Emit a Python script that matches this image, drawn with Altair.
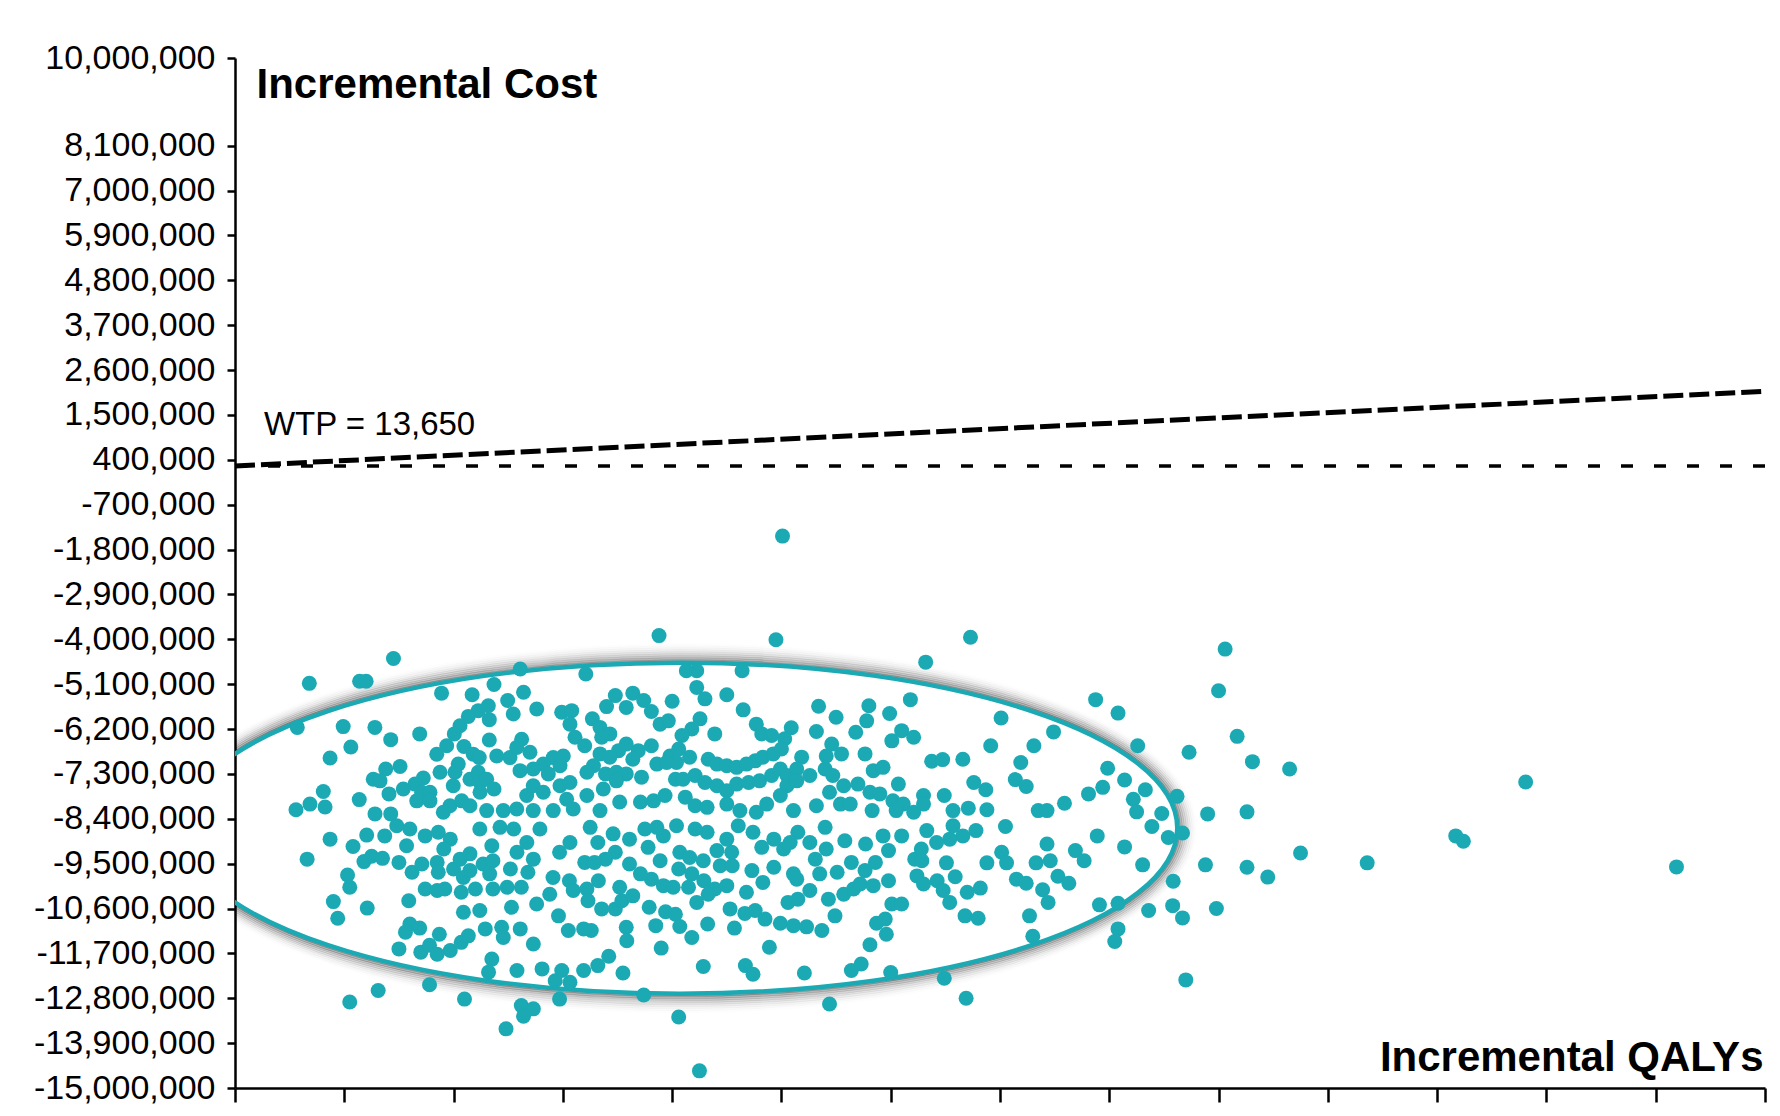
import altair as alt
import pandas as pd

FONT = "'Liberation Sans', Arial, sans-serif"
TEAL = "#1BA9B4"

# ---------------- axes ----------------
y_tick_values = [-15000000, -13900000, -12800000, -11700000, -10600000, -9500000,
                 -8400000, -7300000, -6200000, -5100000, -4000000, -2900000,
                 -1800000, -700000, 400000, 1500000, 2600000, 3700000, 4800000,
                 5900000, 7000000, 8100000, 10250000]
y_tick_labels = ["-15,000,000", "-13,900,000", "-12,800,000", "-11,700,000", "-10,600,000",
                 "-9,500,000", "-8,400,000", "-7,300,000", "-6,200,000", "-5,100,000",
                 "-4,000,000", "-2,900,000", "-1,800,000", "-700,000", "400,000",
                 "1,500,000", "2,600,000", "3,700,000", "4,800,000", "5,900,000",
                 "7,000,000", "8,100,000", "10,000,000"]
x_tick_values = [0, 10, 20, 30, 40, 50, 60, 70, 80, 90, 100, 110, 120, 130, 140]
x_domain = [0, 140]
y_domain = [-15000000, 10250000]

# ---------------- reference lines ----------------
ref_qaly = [0, 140]
ref_cost = [250000, 250000]
wtp_qaly = [0, 140]
wtp_cost = [250000, 2080000]
wtp_label = ["WTP = 13,650"]
wtp_label_qaly = [2.65]
wtp_label_cost = [1010000]

# ---------------- confidence ellipse (centre) ----------------
ellipse_qaly = [40.7]
ellipse_cost = [-8630000]

# ---------------- simulation points (QALYs, cost in millions) ----------------
upper_left = [
    (14.5, -4.47), (6.8, -5.08), (11.4, -5.03), (12.0, -5.03), (26.1, -4.73), (5.7, -6.16),
    (9.9, -6.14), (12.8, -6.16), (14.25, -6.46), (16.9, -6.32), (10.6, -6.64), (8.7, -6.91),
    (18.9, -5.32), (21.7, -5.36), (23.7, -5.11), (26.4, -5.30), (24.95, -5.50), (25.46, -5.83),
    (23.18, -5.63), (22.26, -5.75), (21.35, -5.89), (23.27, -5.97), (20.59, -6.12), (20.07, -6.32),
    (27.61, -5.71), (29.89, -5.79), (30.81, -5.75), (30.65, -6.08), (31.11, -6.40), (23.27, -6.47),
    (19.37, -6.61), (18.46, -6.82), (20.95, -6.63), (21.8, -6.82), (22.35, -6.90), (23.95, -6.86),
    (25.16, -6.90), (26.23, -6.45), (25.78, -6.65), (26.99, -6.77), (29.12, -6.90), (30.04, -6.86),
    (29.74, -7.10), (28.21, -7.06), (27.29, -7.18), (26.08, -7.22), (28.67, -7.30), (15.1, -7.12),
    (13.79, -7.18), (12.65, -7.43), (13.27, -7.47), (18.76, -7.26), (20.43, -7.06), (20.13, -7.26),
    (21.5, -7.43), (22.26, -7.26), (22.42, -7.51), (23.03, -7.43), (23.7, -7.67), (22.42, -7.75),
    (19.97, -7.59), (17.23, -7.40), (16.47, -7.55), (15.4, -7.67), (14.09, -7.79), (17.08, -7.75),
    (17.84, -7.75), (16.63, -7.96), (17.84, -7.96), (8.08, -7.73), (6.86, -8.04), (8.24, -8.11),
    (5.58, -8.18), (11.37, -7.93), (12.81, -8.28), (14.25, -8.28), (19.67, -8.08), (20.74, -7.96),
    (21.5, -8.08), (24.55, -8.20), (25.78, -8.16), (26.69, -7.83), (27.29, -7.59), (28.21, -7.75),
    (29.74, -7.59), (30.65, -7.51), (30.35, -7.92), (29.12, -8.20), (30.95, -8.16), (27.29, -8.20),
    (23.03, -8.20), (19.06, -8.24),
]
upper_centre = [
    (38.8, -3.91), (49.5, -4.01), (32.1, -4.85), (41.3, -4.77), (42.25, -4.77), (46.4, -4.77),
    (42.25, -5.18), (43.0, -5.46), (45.0, -5.36), (46.5, -5.73), (40.0, -5.52), (34.8, -5.38),
    (34.0, -5.65), (36.4, -5.32), (35.8, -5.67), (37.4, -5.50), (38.1, -5.77), (38.9, -6.08),
    (39.65, -6.00), (42.55, -5.95), (41.8, -6.20), (40.9, -6.36), (43.9, -6.32), (32.7, -5.95),
    (33.4, -6.16), (34.3, -6.32), (33.55, -6.40), (32.0, -6.61), (47.7, -6.08), (48.2, -6.32),
    (49.1, -6.36), (50.9, -6.17), (50.3, -6.44), (53.4, -5.64), (55.0, -5.91), (53.2, -6.26),
    (54.6, -6.57), (56.8, -6.28), (58.0, -5.63), (57.8, -6.00), (59.9, -5.82), (61.8, -5.48),
    (60.1, -6.49), (61.0, -6.24), (62.1, -6.40), (35.8, -6.57), (36.9, -6.73), (38.1, -6.61),
    (35.1, -6.73), (33.4, -6.81), (34.3, -6.89), (36.4, -6.94), (32.8, -7.10), (32.2, -7.26),
    (33.9, -7.30), (34.9, -7.26), (35.8, -7.30), (37.2, -7.38), (38.6, -7.06), (39.8, -6.86),
    (40.6, -6.69), (41.6, -6.89), (40.4, -7.02), (39.5, -7.02), (43.3, -6.94), (44.1, -7.06),
    (45.0, -7.10), (45.9, -7.14), (46.8, -7.06), (47.6, -6.98), (48.3, -6.89), (49.25, -6.81),
    (50.0, -6.69), (51.85, -6.89), (54.1, -6.86), (55.5, -6.81), (57.65, -6.81), (49.9, -7.18),
    (50.5, -7.34), (51.4, -7.18), (52.6, -7.34), (54.0, -7.18), (54.7, -7.34), (58.4, -7.22),
    (59.3, -7.14), (60.7, -7.55), (40.3, -7.43), (41.0, -7.43), (42.1, -7.34), (43.0, -7.51),
    (44.1, -7.59), (45.0, -7.71), (45.9, -7.55), (47.0, -7.51), (48.0, -7.47), (49.1, -7.34),
    (50.5, -7.59), (51.4, -7.47), (55.7, -7.59), (57.0, -7.55), (54.4, -7.75), (58.1, -7.75),
    (59.0, -7.79), (32.2, -7.83), (33.7, -7.67), (34.9, -7.47), (33.4, -8.20), (35.2, -7.99),
    (37.1, -7.99), (38.3, -7.96), (39.35, -7.83), (41.2, -7.87), (42.1, -8.08), (43.2, -8.12),
    (45.0, -8.04), (46.2, -8.20), (47.7, -8.24), (48.65, -8.04), (49.9, -7.83), (51.1, -8.20),
    (53.2, -8.08), (55.4, -8.04), (56.3, -8.04), (58.3, -8.20), (60.2, -7.96), (61.15, -8.04),
    (62.1, -8.24), (60.5, -8.20),
]
upper_right = [
    (67.3, -3.95), (63.2, -4.56), (90.6, -4.24), (90.0, -5.26), (91.7, -6.38), (93.1, -7.00),
    (78.75, -5.48), (80.8, -5.81), (82.6, -6.61), (87.3, -6.77), (70.1, -5.93), (74.9, -6.27),
    (69.15, -6.61), (73.1, -6.61), (71.9, -7.02), (66.6, -6.94), (63.75, -6.99), (64.75, -6.95),
    (67.6, -7.51), (68.7, -7.69), (71.4, -7.44), (72.4, -7.61), (64.9, -7.83), (63.0, -7.83),
    (63.0, -8.04), (65.7, -8.20), (67.1, -8.14), (68.8, -8.18), (73.5, -8.20), (74.3, -8.20),
    (75.9, -8.02), (78.1, -7.79), (79.4, -7.63), (79.85, -7.16), (81.4, -7.45), (83.3, -7.69),
    (82.2, -7.92), (82.5, -8.23), (84.8, -8.27), (86.2, -7.85), (89.0, -8.28), (92.6, -8.23),
]
lower_left = [
    (6.6, -9.39), (8.7, -8.90), (10.8, -9.08), (12.05, -8.80), (11.8, -9.45), (12.5, -9.32),
    (13.5, -9.37), (10.3, -9.78), (10.5, -10.08), (9.0, -10.43), (9.4, -10.84), (12.1, -10.59),
    (13.7, -8.82), (15.0, -9.47), (15.9, -10.41), (16.0, -10.98), (15.6, -11.18), (16.9, -11.08),
    (15.0, -11.59), (17.0, -11.67), (17.8, -11.50), (18.7, -11.23), (18.5, -11.72), (19.7, -11.63),
    (20.7, -11.43), (21.35, -11.27), (16.2, -9.71), (17.1, -9.51), (15.7, -9.06), (17.4, -8.82),
    (18.6, -8.73), (14.8, -8.57), (16.0, -8.65), (18.5, -9.47), (18.6, -9.71), (17.4, -10.12),
    (18.5, -10.16), (19.2, -10.12), (20.0, -9.63), (20.6, -9.39), (21.5, -9.26), (20.9, -9.84),
    (20.7, -10.20), (22.0, -10.12), (21.5, -9.67), (22.7, -9.51), (23.5, -9.06), (22.4, -8.65),
    (24.25, -8.61), (19.7, -8.90), (19.1, -9.14), (23.6, -9.43), (23.3, -9.75), (23.6, -10.12),
    (24.9, -10.08), (25.2, -9.63), (25.8, -9.22), (25.5, -8.65), (20.9, -10.69), (22.4, -10.65),
    (22.9, -11.10), (24.4, -11.06), (24.55, -11.31), (26.1, -11.10), (25.3, -10.57), (26.2, -10.08),
    (26.8, -9.71), (27.3, -9.39), (26.7, -8.98), (27.9, -8.65), (27.6, -10.49), (28.8, -10.25),
    (29.6, -10.78), (29.1, -9.84), (29.7, -9.22), (30.65, -8.98), (30.6, -9.92), (30.95, -10.16),
    (30.5, -11.14), (27.3, -11.47), (23.5, -11.84), (23.2, -12.16), (25.8, -12.12), (28.1, -12.08),
    (29.3, -12.37), (29.9, -12.12), (30.65, -12.41), (29.7, -12.82), (26.2, -12.98), (27.3, -13.06),
    (17.8, -12.47), (13.1, -12.61), (10.5, -12.89), (21.0, -12.82),
]
lower_centre = [
    (37.4, -12.72), (54.4, -12.94), (31.9, -12.12), (33.2, -12.00), (34.2, -11.77), (35.5, -12.18),
    (35.8, -11.06), (35.85, -11.39), (32.6, -11.14), (39.0, -11.57), (38.5, -11.02), (37.9, -10.57),
    (39.4, -10.68), (40.3, -10.74), (40.7, -11.04), (41.8, -11.31), (43.25, -10.98), (42.85, -12.02),
    (46.7, -12.00), (47.4, -12.21), (45.7, -11.08), (45.3, -10.61), (46.65, -10.72), (47.6, -10.65),
    (48.5, -10.86), (49.9, -10.96), (51.1, -11.02), (52.3, -11.05), (53.7, -11.14), (48.9, -11.55),
    (52.1, -12.18), (54.9, -10.78), (56.4, -12.12), (57.3, -11.96), (58.1, -11.49), (58.7, -10.96),
    (59.5, -10.86), (59.6, -11.23), (60.1, -10.49), (61.0, -10.49), (60.0, -12.17), (46.8, -10.20),
    (48.3, -9.96), (47.3, -9.67), (49.3, -9.59), (50.6, -10.45), (51.5, -10.37), (52.6, -10.16),
    (51.4, -9.88), (51.1, -9.75), (54.3, -10.37), (55.7, -10.25), (56.6, -10.12), (57.2, -10.00),
    (58.4, -10.04), (59.8, -9.92), (57.65, -9.67), (58.6, -9.47), (56.4, -9.47), (55.1, -9.71),
    (53.5, -9.75), (53.1, -9.39), (54.1, -9.14), (55.8, -8.94), (57.7, -9.02), (59.8, -9.18),
    (59.3, -8.82), (61.0, -8.82), (62.2, -9.39), (62.4, -9.80), (54.0, -8.61), (52.6, -8.98),
    (51.5, -8.73), (50.8, -8.98), (50.2, -9.14), (49.3, -8.90), (48.2, -9.10), (47.4, -8.73),
    (46.05, -8.57), (45.0, -8.90), (45.45, -9.22), (44.1, -9.18), (44.4, -9.55), (45.5, -9.55),
    (43.2, -8.73), (42.1, -8.65), (40.4, -8.57), (39.2, -8.82), (38.6, -8.61), (37.8, -9.10),
    (38.9, -9.43), (40.7, -9.22), (41.6, -9.35), (42.85, -9.43), (40.6, -9.63), (41.8, -9.75),
    (42.9, -9.92), (43.9, -10.12), (45.0, -10.04), (43.3, -10.25), (42.25, -10.45), (41.5, -10.08),
    (40.1, -10.08), (39.2, -10.04), (38.1, -9.88), (37.1, -9.75), (36.1, -9.51), (34.8, -9.22),
    (33.9, -9.39), (33.2, -8.98), (34.6, -8.77), (36.1, -8.90), (37.5, -8.65), (32.5, -8.61),
    (32.0, -9.47), (32.9, -9.47), (33.25, -9.92), (32.2, -10.12), (32.3, -10.41), (33.55, -10.61),
    (34.8, -10.61), (35.4, -10.41), (35.2, -10.08), (36.4, -10.29), (31.9, -11.10),
]
lower_right = [
    (70.5, -8.59), (67.8, -8.69), (66.6, -8.82), (65.4, -8.90), (64.2, -8.98), (63.3, -8.69),
    (65.7, -8.57), (62.8, -9.14), (62.85, -9.43), (65.1, -9.48), (65.9, -9.82), (64.25, -9.92),
    (63.0, -10.00), (64.8, -10.16), (65.4, -10.45), (67.0, -10.20), (68.2, -10.10), (66.8, -10.78),
    (68.0, -10.84), (68.8, -9.48), (70.15, -9.22), (70.6, -9.48), (71.5, -9.88), (72.4, -9.98),
    (73.3, -9.48), (74.3, -9.02), (74.6, -9.43), (73.9, -10.14), (74.4, -10.45), (72.7, -10.78),
    (73.0, -11.28), (75.3, -9.81), (76.3, -9.98), (76.9, -9.18), (77.7, -9.43), (78.9, -8.82),
    (81.4, -9.09), (83.05, -9.53), (83.9, -8.59), (85.4, -8.86), (86.7, -8.75), (79.1, -10.51),
    (80.8, -10.47), (80.8, -11.10), (80.5, -11.41), (83.6, -10.65), (85.8, -10.53), (86.7, -10.83),
    (85.85, -9.93), (88.8, -9.53), (92.6, -9.59), (89.8, -10.60), (87.0, -12.35), (64.9, -12.31),
    (66.9, -12.80),
]
outliers = [
    (50.1, -1.47), (96.5, -7.18), (118.1, -7.50), (97.5, -9.24), (103.6, -9.48), (111.7, -8.82),
    (112.4, -8.95), (131.9, -9.58), (94.5, -9.83), (24.8, -13.55), (26.4, -13.24), (40.6, -13.26),
    (42.5, -14.58),
]

# ---------------- tables ----------------
all_points = upper_left + upper_centre + upper_right + lower_left + lower_centre + lower_right + outliers
points_df = pd.DataFrame({"qaly": [p[0] for p in all_points],
                          "cost": [p[1] * 1e6 for p in all_points]})
ref_df = pd.DataFrame({"qaly": ref_qaly, "cost": ref_cost})
wtp_df = pd.DataFrame({"qaly": wtp_qaly, "cost": wtp_cost})
label_df = pd.DataFrame({"qaly": wtp_label_qaly, "cost": wtp_label_cost, "text": wtp_label})
ellipse_df = pd.DataFrame({"qaly": ellipse_qaly, "cost": ellipse_cost})

# ---------------- encodings ----------------
label_expr = ""
for v, l in zip(y_tick_values, y_tick_labels):
    label_expr += f"datum.value == {v} ? '{l}' : "
label_expr += "''"

x_scale = alt.Scale(domain=x_domain, nice=False, zero=False)
y_scale = alt.Scale(domain=y_domain, nice=False, zero=False)

x_axis = alt.Axis(values=x_tick_values, labels=False, grid=False,
                  title="Incremental QALYs", titleFont=FONT, titleFontSize=42,
                  titleFontWeight="bold", titleColor="black", titleAlign="right",
                  titleBaseline="alphabetic", titleX=1528, titleY=-18, titleLimit=800,
                  tickSize=14, tickWidth=2.5, tickColor="black",
                  domainColor="black", domainWidth=2.5)
y_axis = alt.Axis(values=y_tick_values, labelExpr=label_expr, grid=False,
                  title="Incremental Cost", titleFont=FONT, titleFontSize=42,
                  titleFontWeight="bold", titleColor="black", titleAngle=0,
                  titleAlign="left", titleBaseline="alphabetic", titleX=21, titleY=39,
                  titleLimit=800,
                  labelFont=FONT, labelFontSize=34, labelColor="black",
                  labelPadding=12, labelOverlap=False, labelLimit=400,
                  tickSize=8, tickWidth=2.5, tickColor="black",
                  domainColor="black", domainWidth=2.5)


def enc(chart):
    return chart.encode(
        x=alt.X("qaly:Q", scale=x_scale, axis=x_axis),
        y=alt.Y("cost:Q", scale=y_scale, axis=y_axis),
    )


def ellipse_path(w, h):
    r = h / w
    k = 0.5523
    return (f"M -1 0 C -1 {-k * r:.4f} {-k:.4f} {-r:.4f} 0 {-r:.4f} "
            f"C {k:.4f} {-r:.4f} 1 {-k * r:.4f} 1 0 "
            f"C 1 {k * r:.4f} {k:.4f} {r:.4f} 0 {r:.4f} "
            f"C {-k:.4f} {r:.4f} -1 {k * r:.4f} -1 0 Z")


ELL_W, ELL_H = 995, 331

layers = []
layers.append(enc(alt.Chart(ref_df).mark_line(color="black", strokeWidth=3.5,
                                              strokeDash=[12, 21])))
layers.append(enc(alt.Chart(wtp_df).mark_line(color="black", strokeWidth=5,
                                              strokeDash=[20, 6])))
# soft shadow around the ellipse
for d in range(2, 20, 2):
    op = 0.45 * (1 - d / 20) ** 2
    w, h = ELL_W + 2 * d, ELL_H + 2 * d
    layers.append(enc(alt.Chart(ellipse_df).mark_point(
        shape=ellipse_path(w, h), size=w * w, filled=False, color="black",
        strokeWidth=2.4, opacity=op, clip=True)))
layers.append(enc(alt.Chart(ellipse_df).mark_point(
    shape=ellipse_path(ELL_W, ELL_H), size=ELL_W * ELL_W, filled=False, color=TEAL,
    strokeWidth=4.5, opacity=1, clip=True)))
layers.append(enc(alt.Chart(points_df).mark_circle(size=225, color=TEAL, opacity=1)))
layers.append(enc(alt.Chart(label_df).mark_text(
    align="left", baseline="alphabetic", font=FONT, fontSize=33, color="black"
)).encode(text="text:N"))

chart = alt.layer(*layers).properties(
    width=1530, height=1030,
    autosize=alt.AutoSizeParams(type="none"),
    padding={"left": 227, "top": 50, "right": 5, "bottom": 17},
    background="white",
).configure_view(stroke=None)

chart.save("out.html", embed_options={"renderer": "svg", "actions": False})
